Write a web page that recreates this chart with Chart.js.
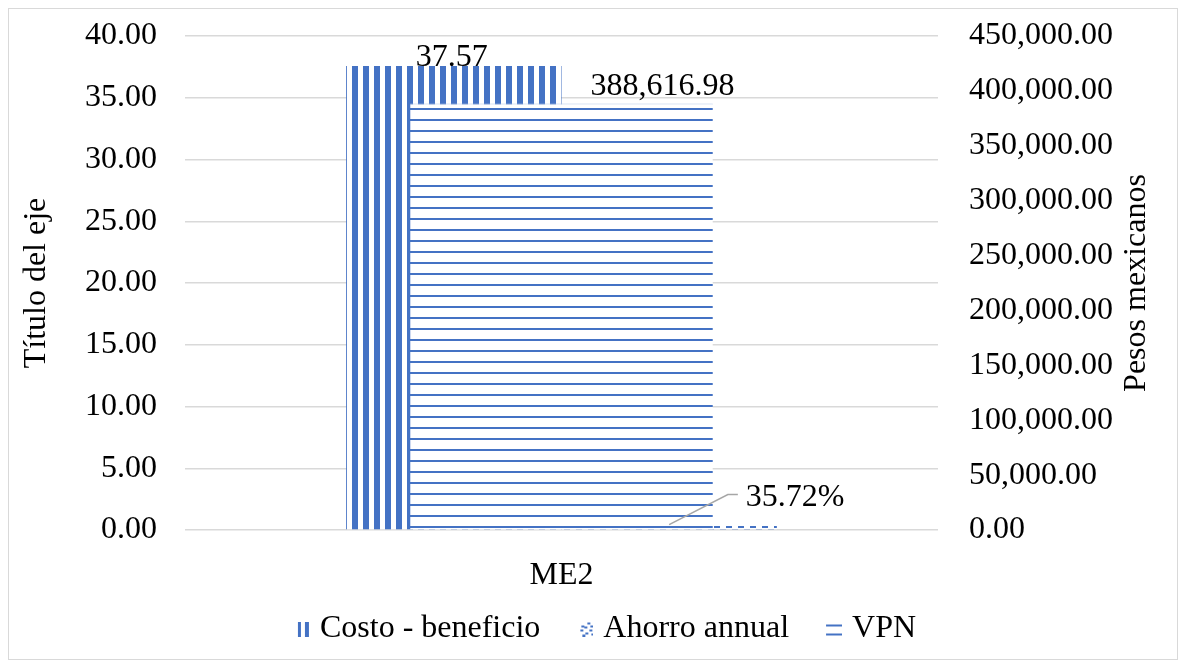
<!DOCTYPE html>
<html>
<head>
<meta charset="utf-8">
<script src="https://cdn.jsdelivr.net/npm/chart.js@4.4.1/dist/chart.umd.min.js"></script>
<style>
body{margin:0;background:#fff;}
#wrap{position:relative;width:1186px;height:667px;}
#frame{position:absolute;left:8px;top:8px;width:1168px;height:650px;border:1px solid #d9d9d9;pointer-events:none;}
</style>
</head>
<body>
<div id="wrap"><canvas id="myChart" width="1186" height="667"></canvas><div id="frame"></div></div>
<script>
const categories = ['ME2'];
const costoBeneficio = [37.57];
const ahorroAnual = [0.3572];
const vpn = [388616.98];
const leftTicks = [0, 5, 10, 15, 20, 25, 30, 35, 40];
const rightTicks = [0, 50000, 100000, 150000, 200000, 250000, 300000, 350000, 400000, 450000];

const blue = '#4472C4';
const fmt = v => v.toLocaleString('en-US', {minimumFractionDigits: 2, maximumFractionDigits: 2});
const pct = v => (v * 100).toFixed(2) + '%';

var mychart = document.getElementById('myChart').getContext('2d');

function makePattern(kind){
    const c = document.createElement('canvas');
    const x = c.getContext('2d');
    if(kind === 'v'){
        c.width = 11; c.height = 4;
        x.fillStyle = '#fff'; x.fillRect(0,0,11,4);
        x.fillStyle = blue; x.fillRect(0,0,6,4);
    } else if(kind === 'h'){
        c.width = 4; c.height = 11;
        x.fillStyle = '#fff'; x.fillRect(0,0,4,11);
        x.fillStyle = blue; x.fillRect(0,9,4,2);
    } else {
        c.width = 12; c.height = 6;
        x.fillStyle = '#fff'; x.fillRect(0,0,12,6);
        x.fillStyle = blue; x.fillRect(0,1,6,2); x.fillRect(6,4,6,2);
    }
    return mychart.createPattern(c, 'repeat');
}

// small legend swatches, blank space on the left keeps the Excel-like spacing
function legendIcon(kind){
    const c = document.createElement('canvas');
    c.width = 46; c.height = 15;
    const x = c.getContext('2d');
    x.fillStyle = blue;
    if(kind === 'v'){
        x.fillRect(34,0,3,15); x.fillRect(41,0,4,15);
    } else if(kind === 'h'){
        x.fillRect(30,3,16,2); x.fillRect(30,12,16,2);
    } else {
        [[40,1],[43,4],[34,4],[37,5],[33,8],[42,8],[38,11],[44,12],[35,13]].forEach(p => x.fillRect(p[0],p[1],3,2));
    }
    return c;
}
const legendIcons = [legendIcon('v'), legendIcon('d'), legendIcon('h')];

// draws the value labels (and the leader line of the small bar)
const valueLabels = {
    id: 'valueLabels',
    afterDatasetsDraw(chart){
        const ctx = chart.ctx;
        ctx.save();
        ctx.font = '32px "Liberation Serif"';
        ctx.fillStyle = '#000';
        ctx.textAlign = 'center';
        ctx.textBaseline = 'alphabetic';
        chart.data.datasets.forEach((ds, i) => {
            const lab = ds.valueLabel;
            chart.getDatasetMeta(i).data.forEach((bar, j) => {
                const text = lab.format(ds.data[j]);
                const tx = bar.x + lab.dx, ty = bar.y + lab.dy;
                if(lab.leader){
                    const w = ctx.measureText(text).width;
                    const ex = tx - w/2 - 8, ey = ty - 11;
                    ctx.strokeStyle = '#a6a6a6';
                    ctx.lineWidth = 1.5;
                    ctx.beginPath();
                    ctx.moveTo(bar.x, bar.y - 1);
                    ctx.lineTo(ex - 10, ey);
                    ctx.lineTo(ex, ey);
                    ctx.stroke();
                }
                ctx.fillText(text, tx, ty);
            });
        });
        ctx.restore();
    }
};

// secondary axis title, read bottom to top like the left one
const rightTitle = {
    id: 'rightTitle',
    afterDraw(chart, args, opts){
        const s = chart.scales.y1;
        const ctx = chart.ctx;
        ctx.save();
        ctx.font = '32px "Liberation Serif"';
        ctx.fillStyle = '#000';
        ctx.translate(s.right - opts.offset, (chart.chartArea.top + chart.chartArea.bottom) / 2);
        ctx.rotate(-Math.PI / 2);
        ctx.textAlign = 'center';
        ctx.textBaseline = 'middle';
        ctx.fillText(opts.text, 0, 0);
        ctx.restore();
    }
};

Chart.defaults.font.family = '"Liberation Serif", "Times New Roman", serif';
Chart.defaults.font.size = 32;
Chart.defaults.color = '#000';

var result = new Chart(mychart, {
    type: 'bar',
    data: {
        labels: categories,
        datasets: [{
            label: 'Costo - beneficio',
            data: costoBeneficio,
            backgroundColor: makePattern('v'),
            yAxisID: 'y', order: 1,
            categoryPercentage: 0.572, barPercentage: 1,
            valueLabel: {format: fmt, dx: -2, dy: 0}
        }, {
            label: 'Ahorro annual',
            data: ahorroAnual,
            backgroundColor: makePattern('d'),
            yAxisID: 'y', order: 2,
            categoryPercentage: 0.572, barPercentage: 1,
            valueLabel: {format: pct, dx: 126, dy: -20, leader: true}
        }, {
            label: 'VPN',
            data: vpn,
            backgroundColor: makePattern('h'),
            borderColor: '#b4c7e7',
            borderWidth: {top: 1, left: 0, right: 0, bottom: 0},
            borderSkipped: false,
            yAxisID: 'y1', order: 0,
            grouped: false,
            categoryPercentage: 0.402, barPercentage: 1,
            valueLabel: {format: fmt, dx: 101, dy: -8}
        }]
    },
    options: {
        responsive: false,
        animation: false,
        layout: {padding: {top: 36, left: 0, right: 0, bottom: 12}},
        plugins: {
            tooltip: {enabled: false},
            rightTitle: {text: 'Pesos mexicanos', offset: 49},
            legend: {
                position: 'bottom',
                labels: {
                    usePointStyle: true, pointStyleWidth: 34, boxHeight: 15, padding: 13,
                    generateLabels: chart => {
                        const items = Chart.defaults.plugins.legend.labels.generateLabels(chart);
                        items.forEach(it => { it.pointStyle = legendIcons[it.datasetIndex]; });
                        return items;
                    },
                    sort: (a, b) => a.datasetIndex - b.datasetIndex
                }
            }
        },
        scales: {
            x: {
                type: 'category', offset: true,
                grid: {display: false},
                border: {display: false},
                ticks: {padding: 18},
                afterFit: s => { s.height = 70; }
            },
            y: {
                position: 'left',
                min: 0, max: 40,
                afterBuildTicks: s => { s.ticks = leftTicks.map(v => ({value: v})); },
                ticks: {padding: 28, callback: v => fmt(v)},
                grid: {color: '#d9d9d9', lineWidth: 1.5, drawTicks: false},
                border: {display: false},
                title: {display: true, text: 'Título del eje', padding: {top: 17, bottom: 0}},
                afterFit: s => { s.width = 185; s.paddingTop = 0; s.paddingBottom = 0; }
            },
            y1: {
                position: 'right',
                min: 0, max: 450000,
                afterBuildTicks: s => { s.ticks = rightTicks.map(v => ({value: v})); },
                ticks: {padding: 31, callback: v => fmt(v)},
                grid: {drawOnChartArea: false, drawTicks: false},
                border: {display: false},
                afterFit: s => { s.width = 248; s.paddingTop = 0; s.paddingBottom = 0; }
            }
        }
    },
    plugins: [valueLabels, rightTitle]
});
</script>
</body>
</html>
